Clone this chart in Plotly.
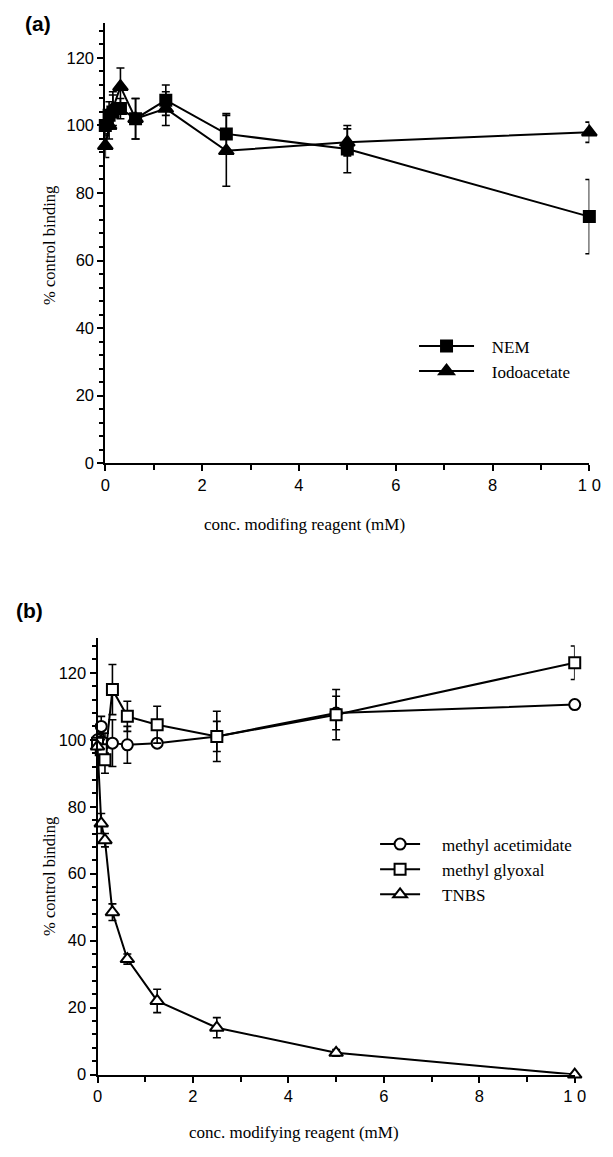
import plotly.graph_objects as go

W, H = 613, 1157

# ---------------- data ----------------
conc = [0, 0.078, 0.156, 0.3125, 0.625, 1.25, 2.5, 5, 10]

nem = [100, 103, 104, 105, 102, 107.5, 97.5, 93, 73]
nem_err = [3, 4, 5, 3, 6, 4.5, 6, 7, 11]
iodo = [94, 100, 105, 111.5, 102, 105, 92.5, 95, 98]
iodo_err = [3.5, 4, 5, 5.5, 6, 5, 10.5, 4, 3]

meth_acet = [100, 104, 99, 99, 98.5, 99, 101, 108, 110.5]
meth_acet_err = [2, 3, 3, 7, 5.5, 1, 4.5, 5, 1]
meth_gly = [99, 97, 94, 115, 107, 104.5, 101, 107.5, 123]
meth_gly_err = [2, 3, 4, 7.5, 4.5, 5.5, 7.5, 7.5, 5]
tnbs = [98, 75, 70, 48.5, 34.5, 22, 14, 6.5, 0]
tnbs_err = [1, 3, 2, 2.5, 1.5, 3.5, 3, 1, 0.5]

x_ticks = [0, 2, 4, 6, 8, 10]
x_ticktext = ["0", "2", "4", "6", "8", "1 0"]
y_ticks = [0, 20, 40, 60, 80, 100, 120]

PAD_A = "\u00a0" * 3
PAD_B = "\u00a0" * 4

# ---------------- figure ----------------
fig = go.Figure()

def add(x, y, err, name, symbol, size, fill, xa, ya, legend):
    fig.add_trace(go.Scatter(
        x=x, y=y, name=name, mode="lines+markers",
        xaxis=xa, yaxis=ya, legend=legend, cliponaxis=False,
        line=dict(color="black", width=2),
        marker=dict(symbol=symbol, size=size, color=fill,
                    line=dict(color="black", width=2)),
        error_y=dict(type="data", array=err, visible=True,
                     color="black", thickness=1.6, width=4),
    ))

add(conc, nem, nem_err, PAD_A + "NEM", "square", 11, "black", "x", "y", "legend")
add(conc, iodo, iodo_err, PAD_A + "Iodoacetate", "triangle-up", 13, "black", "x", "y", "legend")

add(conc, meth_acet, meth_acet_err, PAD_B + "methyl acetimidate", "circle", 11, "white", "x2", "y2", "legend2")
add(conc, meth_gly, meth_gly_err, PAD_B + "methyl glyoxal", "square", 11, "white", "x2", "y2", "legend2")
add(conc, tnbs, tnbs_err, PAD_B + "TNBS", "triangle-up", 12, "white", "x2", "y2", "legend2")

tickfont = dict(family="Liberation Sans, Arial, sans-serif", size=16.5, color="black")

def xaxis(domain, anchor):
    return dict(domain=domain, anchor=anchor, range=[0, 10],
                tickvals=x_ticks, ticktext=x_ticktext,
                ticks="outside", ticklen=6, tickwidth=2, tickcolor="black",
                minor=dict(dtick=1, tick0=0, ticks="outside", ticklen=5, tickwidth=2, tickcolor="black"),
                showline=True, linecolor="black", linewidth=2,
                showgrid=False, zeroline=False, tickfont=tickfont, fixedrange=True)

def yaxis(domain, anchor):
    return dict(domain=domain, anchor=anchor, range=[0, 130.4],
                tickvals=y_ticks,
                ticks="outside", ticklen=6, tickwidth=2, tickcolor="black",
                minor=dict(dtick=4, tick0=0, ticks="outside", ticklen=4, tickwidth=1.5, tickcolor="black"),
                showline=True, linecolor="black", linewidth=2,
                showgrid=False, zeroline=False, tickfont=tickfont, fixedrange=True)

legfont = dict(family="Liberation Serif, Times New Roman, serif", size=17, color="black")

fig.update_layout(
    width=W, height=H,
    margin=dict(l=0, r=0, t=0, b=0),
    paper_bgcolor="white", plot_bgcolor="white",
    xaxis=xaxis([103 / W, 600 / W], "y"),
    yaxis=yaxis([1 - 466.7 / H, 1 - 23 / H], "x"),
    xaxis2=xaxis([95 / W, 585 / W], "y2"),
    yaxis2=yaxis([1 - 1083 / H, 1 - 643 / H], "x2"),
    legend=dict(x=420 / W, y=1 - 331 / H, xanchor="left", yanchor="top",
                bgcolor="rgba(0,0,0,0)", itemwidth=55, font=legfont),
    legend2=dict(x=380 / W, y=1 - 833 / H, xanchor="left", yanchor="top",
                 bgcolor="rgba(0,0,0,0)", itemwidth=40, font=legfont),
    showlegend=True,
)

serif = dict(family="Liberation Serif, Times New Roman, serif", size=17, color="black")
serif_y = dict(family="Liberation Serif, Times New Roman, serif", size=16.5, color="black")
bold = dict(family="Liberation Sans, Arial, sans-serif", size=21, color="black")

annots = [
    dict(text="<b>(a)</b>", x=34 / W, y=1 - 24 / H, font=bold),
    dict(text="<b>(b)</b>", x=25 / W, y=1 - 615 / H, font=bold),
    dict(text="conc. modifing reagent (mM)", x=308 / W, y=1 - 529 / H, font=serif),
    dict(text="conc. modifying reagent (mM)", x=297 / W, y=1 - 1141 / H, font=serif),
    dict(text="% control binding", x=45 / W, y=1 - 247 / H, font=serif_y, textangle=-90),
    dict(text="% control binding", x=45 / W, y=1 - 883 / H, font=serif_y, textangle=-90),
]
for a in annots:
    fig.add_annotation(xref="paper", yref="paper", showarrow=False,
                       xanchor="center", yanchor="middle", **a)

fig.write_html("out.html", config={"displayModeBar": False},
               post_script="document.body.style.margin='0';")
